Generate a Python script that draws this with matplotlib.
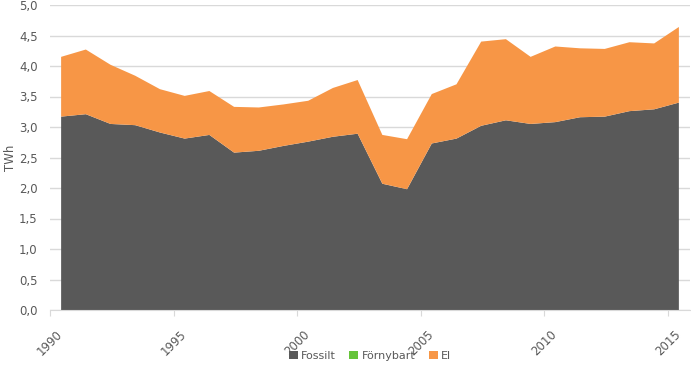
import matplotlib.pyplot as plt
import numpy as np

years = list(range(1990, 2016))
fossilt = [3.17, 3.21, 3.05, 3.03, 2.91, 2.81, 2.87, 2.58, 2.61, 2.69, 2.76, 2.84, 2.89,
           2.07, 1.98, 2.73, 2.81, 3.02, 3.11, 3.05, 3.08, 3.16, 3.17, 3.26, 3.29, 3.40]
fornybart = [0.0] * 26
total = [4.15, 4.27, 4.02, 3.84, 3.62, 3.51, 3.59, 3.33, 3.32, 3.37, 3.43, 3.64, 3.77,
         2.87, 2.80, 3.54, 3.70, 4.40, 4.44, 4.15, 4.32, 4.29, 4.28, 4.39, 4.37, 4.64]
el = [t - f for t, f in zip(total, fossilt)]
tick_years = [1990, 1995, 2000, 2005, 2010, 2015]
y_ticks = [0, 0.5, 1.0, 1.5, 2.0, 2.5, 3.0, 3.5, 4.0, 4.5, 5.0]

txt = '#595959'
grid = '#D9D9D9'

fig = plt.figure(figsize=(6.91, 3.65), dpi=100)
ax = fig.add_axes([50/691, 1 - 310/365, 640/691, 305/365])

x = np.arange(len(years))
ax.stackplot(x, fossilt, fornybart, el, colors=['#595959', '#66C43A', '#F79646'],
             labels=['Fossilt', 'Förnybart', 'El'], linewidth=0)

ax.set_ylim(0, 5)
ax.set_xlim(-0.45, 25.45)
ax.set_yticks(y_ticks)
ax.set_yticklabels([f'{v:.1f}'.replace('.', ',') for v in y_ticks], color=txt, fontsize=8.5)
ax.yaxis.grid(True, color=grid, linewidth=1)
ax.set_axisbelow(True)
ax.tick_params(axis='y', length=0, pad=9)

# Year ticks sit just left of each data point, as in the original
ax.set_xticks([years.index(y) - 0.45 for y in tick_years])
ax.set_xticklabels([str(y) for y in tick_years], rotation=45, ha='center', va='top',
                   color=txt, fontsize=8.5)
ax.tick_params(axis='x', length=4, color=grid, pad=9)

for s in ['top', 'right', 'left']:
    ax.spines[s].set_visible(False)
ax.spines['bottom'].set_color(grid)

ax.set_ylabel('TWh', color=txt, fontsize=8.5, labelpad=1)

ax.legend(loc='lower center', bbox_to_anchor=(0.5, -0.2), ncol=3, frameon=False,
          fontsize=8, labelcolor=txt, handlelength=0.8, handleheight=0.8,
          handletextpad=0.3, columnspacing=1.2)

fig.savefig('out.png', dpi=100)
